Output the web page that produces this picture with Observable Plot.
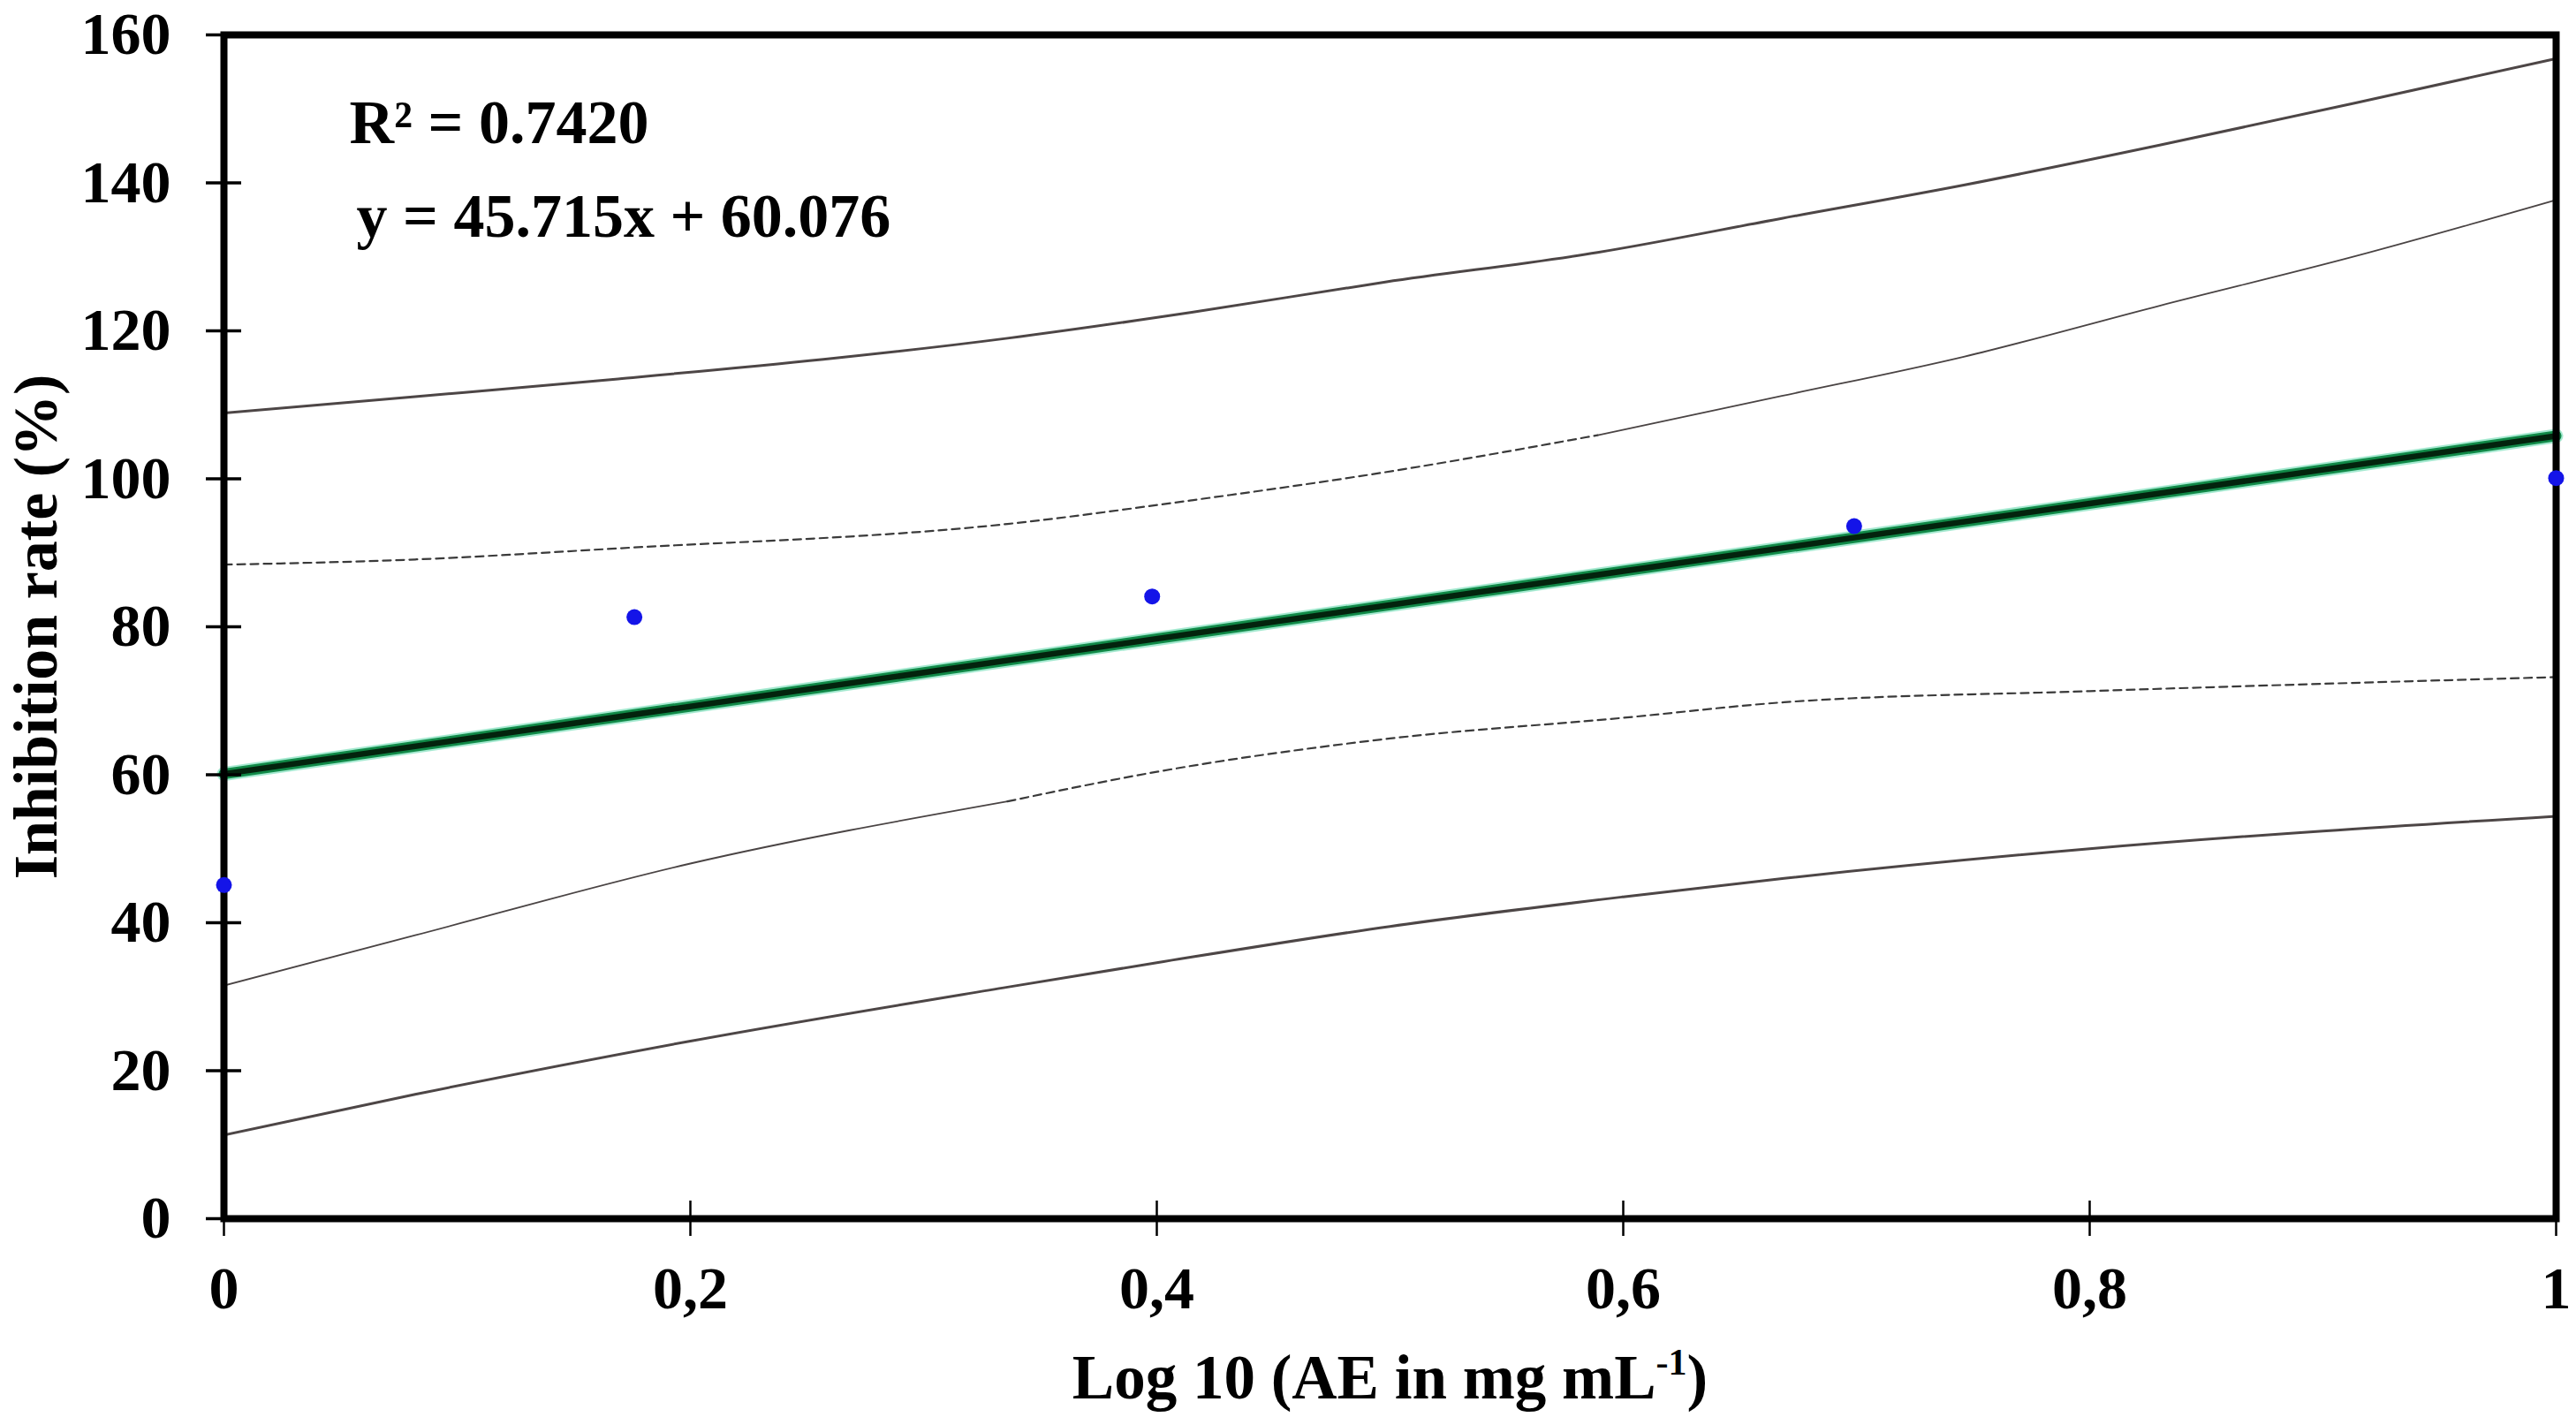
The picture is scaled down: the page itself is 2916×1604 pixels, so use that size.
<!DOCTYPE html>
<html>
<head>
<meta charset="utf-8">
<script src="https://cdn.jsdelivr.net/npm/d3@7"></script>
<script src="https://cdn.jsdelivr.net/npm/@observablehq/plot@0.6"></script>
<style>
  html, body { margin: 0; padding: 0; background: #fff; }
  #chart svg { display: block; }
</style>
</head>
<body>
<div id="chart"></div>
<script>
// ---- data ----
const pointX = [0, 0.176, 0.398, 0.699, 1];
const pointY = [45.1, 81.3, 84.1, 93.6, 100.1];

const fitX = [0, 1];
const fitY = [60.1, 105.8];

const predUpperX = [0, 0.082, 0.169, 0.336, 0.415, 0.498, 0.589, 0.668, 0.746, 0.83, 0.914, 1];
const predUpperY = [108.9, 111.1, 113.5, 119.0, 122.5, 126.6, 130.6, 135.2, 139.7, 145.1, 150.8, 156.8];

const confUpperX = [0, 0.082, 0.169, 0.336, 0.415, 0.498, 0.589, 0.668, 0.746, 0.83, 0.914, 1];
const confUpperY = [88.4, 89.1, 90.6, 93.9, 97.1, 100.9, 105.9, 111.2, 116.5, 123.4, 130.1, 137.7];

const confLowerX = [0, 0.082, 0.2, 0.336, 0.4, 0.5, 0.6, 0.669, 0.8, 1];
const confLowerY = [31.5, 38.3, 48.0, 56.4, 60.4, 64.9, 67.7, 69.8, 71.3, 73.2];

const predLowerX = [0, 0.082, 0.2, 0.336, 0.4, 0.5, 0.6, 0.669, 0.8, 1];
const predLowerY = [11.3, 16.8, 24.0, 31.3, 34.6, 39.5, 43.5, 46.0, 50.0, 54.4];

// where the printed confidence curves switch between dashed and thin solid
const confUpperSolidFrom = 0.589;
const confLowerDashedFrom = 0.336;

const xTicks = [0, 0.2, 0.4, 0.6, 0.8, 1];
const xTickLabels = ["0", "0,2", "0,4", "0,6", "0,8", "1"];
const yTicks = [0, 20, 40, 60, 80, 100, 120, 140, 160];

const r2Text = "R² = 0.7420";
const eqText = "y = 45.715x + 60.076";
const yTitle = "Inhibition rate (%)";

// ---- build tables ----
const zip = (xs, ys) => xs.map((x, i) => ({x, y: ys[i]}));
const points = zip(pointX, pointY);
const fit = zip(fitX, fitY);
const predUpper = zip(predUpperX, predUpperY);
const predLower = zip(predLowerX, predLowerY);
const confUpper = zip(confUpperX, confUpperY);
const confLower = zip(confLowerX, confLowerY);

// ---- layout ----
const W = 2916, H = 1604;
const mL = 253, mR = 23, mT = 39, mB = 225;
const plotW = W - mL - mR, plotH = H - mT - mB;

const predStyle = {x: "x", y: "y", stroke: "#4d4646", strokeWidth: 3, curve: "monotone-x"};
const dashStyle = {x: "x", y: "y", stroke: "#3a3a3a", strokeWidth: 2.2, strokeDasharray: "9,6", curve: "monotone-x"};
const thinStyle = {x: "x", y: "y", stroke: "#4a4444", strokeWidth: 1.8, curve: "monotone-x"};

const chart = Plot.plot({
  width: W,
  height: H,
  marginLeft: mL,
  marginRight: mR,
  marginTop: mT,
  marginBottom: mB,
  x: {domain: [0, 1], label: null},
  y: {domain: [0, 160], label: null},
  style: {
    fontFamily: "'Liberation Serif', 'Times New Roman', serif",
    fontWeight: "bold",
    fontSize: "68px",
    background: "white",
    color: "black",
    overflow: "visible"
  },
  marks: [
    Plot.line(predUpper, predStyle),
    Plot.line(predLower, predStyle),
    Plot.line(confUpper.filter(d => d.x <= confUpperSolidFrom), dashStyle),
    Plot.line(confUpper.filter(d => d.x >= confUpperSolidFrom), thinStyle),
    Plot.line(confLower.filter(d => d.x <= confLowerDashedFrom), thinStyle),
    Plot.line(confLower.filter(d => d.x >= confLowerDashedFrom), dashStyle),
    Plot.line(fit, {x: "x", y: "y", stroke: "#8fe3c4", strokeWidth: 16, strokeOpacity: 0.8}),
    Plot.line(fit, {x: "x", y: "y", stroke: "#118a48", strokeWidth: 12}),
    Plot.line(fit, {x: "x", y: "y", stroke: "#03230d", strokeWidth: 6.5}),
    Plot.frame({stroke: "black", strokeWidth: 8}),
    Plot.tickY(yTicks, {y: d => d, stroke: "black", strokeWidth: 3.5, dx: -20, insetRight: plotW - 40}),
    Plot.tickX(xTicks, {x: d => d, stroke: "black", strokeWidth: 2.5, insetTop: plotH - 40, dy: 20}),
    Plot.dot(points, {x: "x", y: "y", r: 9, fill: "#1414e8", stroke: "none"}),
    Plot.axisY({ticks: yTicks, tickSize: 0, tickPadding: 60, label: null, tickFormat: d => String(d)}),
    Plot.axisX({ticks: xTicks, tickSize: 0, tickPadding: 53, label: null, tickFormat: (d, i) => xTickLabels[i]}),
    Plot.text([r2Text], {text: d => d, frameAnchor: "top-left", dx: 142, dy: 100, textAnchor: "start", lineAnchor: "middle", fontSize: 70}),
    Plot.text([eqText], {text: d => d, frameAnchor: "top-left", dx: 150, dy: 206, textAnchor: "start", lineAnchor: "middle", fontSize: 70}),
    Plot.text([yTitle], {text: d => d, frameAnchor: "left", dx: -212, rotate: -90, textAnchor: "middle", lineAnchor: "middle", fontSize: 70}),
    Plot.text(["Log 10 (AE in mg mL-1)"], {text: d => d, frameAnchor: "bottom", dy: 181, textAnchor: "middle", lineAnchor: "middle", fontSize: 71, className: "xtitle"})
  ]
});

document.getElementById("chart").appendChild(chart);

// superscript for mL-1
const t = d3.select(chart).select("g.xtitle text");
if (!t.empty()) {
  t.text(null);
  t.append("tspan").text("Log 10 (AE in mg mL");
  t.append("tspan").attr("font-size", "42px").attr("dy", "-27").text("-1");
  t.append("tspan").attr("dy", "27").text(")");
}
</script>
</body>
</html>
